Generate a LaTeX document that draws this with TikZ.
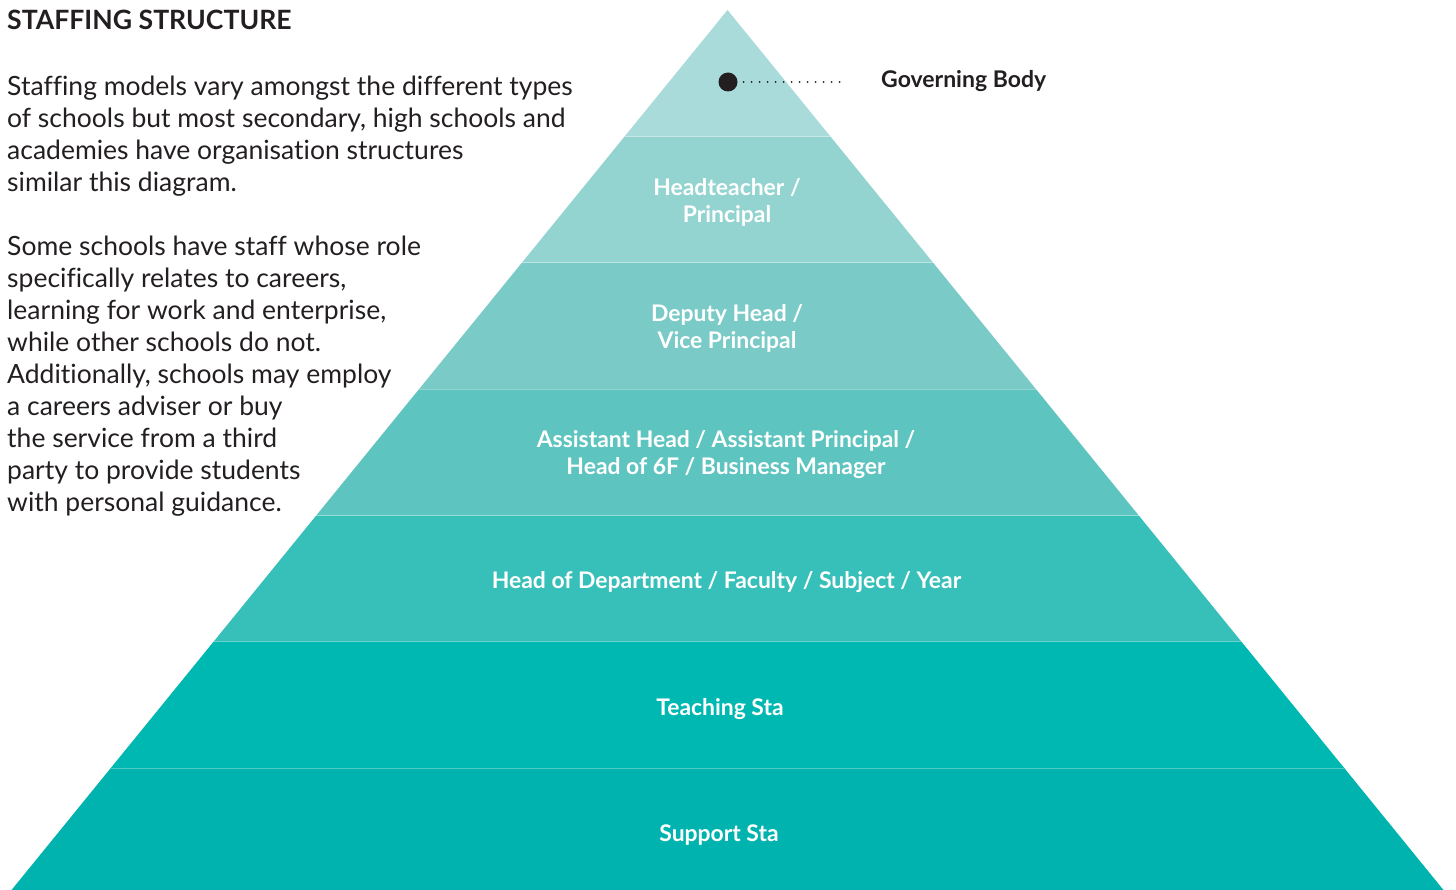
\documentclass[tikz,border=0pt]{standalone}
\usepackage{fontspec}
\setmainfont{Lato}[Ligatures=NoCommon]
\definecolor{Lone}{HTML}{A8DBD9}
\definecolor{Ltwo}{HTML}{93D4D1}
\definecolor{Lthree}{HTML}{7ACAC8}
\definecolor{Lfour}{HTML}{5EC4C0}
\definecolor{Lfive}{HTML}{37BFB9}
\definecolor{Lsix}{HTML}{00B8B2}
\definecolor{Lseven}{HTML}{00B3AE}
\definecolor{ink}{HTML}{231F20}
\begin{document}
\begin{tikzpicture}[x=1pt,y=-1pt,
  lab/.style={text=white, font=\fontsize{22.9}{27}\selectfont\bfseries, align=center, inner sep=0pt},
  para/.style={text=ink, font=\fontsize{26.5}{32}\selectfont, align=left, inner sep=0pt, anchor=north west},
  sep/.style={white, opacity=0.3, line width=1pt},
  dotline/.style={ink, line width=2pt, line cap=round, dash pattern=on 0pt off 8pt}]
\useasboundingbox (0,0) rectangle (1456,890);
\begin{scope}
\clip (0,0) rectangle (1456,890);
\foreach \i/\c in {0/Lone,1/Ltwo,2/Lthree,3/Lfour,4/Lfive,5/Lsix,6/Lseven}{
  \pgfmathsetmacro\ya{10+126.35*\i}
  \pgfmathsetmacro\yb{10+126.35*(\i+1)}
  \pgfmathsetmacro\wa{0.8136*(\ya-10)}
  \pgfmathsetmacro\wb{0.8136*(\yb-10)}
  \fill[\c] ({727.5-\wa},\ya) -- ({727.5+\wa},\ya) -- ({727.5+\wb},\yb) -- ({727.5-\wb},\yb) -- cycle;
}
\foreach \i in {1,...,6}{
  \pgfmathsetmacro\ya{10+126.35*\i}
  \pgfmathsetmacro\wa{0.8136*(\ya-10)}
  \draw[sep] ({727.5-\wa},\ya) -- ({727.5+\wa},\ya);
}
\end{scope}
% title and text
\node[text=ink, font=\fontsize{26.6}{30}\selectfont\bfseries, anchor=base west, inner sep=0pt] (title) at (7,30) {STAFFING STRUCTURE};
\node[para] (p1) at (7,76) {Staffing models vary amongst the different types\\of schools but most secondary, high schools and\\academies have organisation structures\\similar this diagram.};
\node[para] (p2) at (7,236) {Some schools have staff whose role\\specifically relates to careers,\\learning for work and enterprise,\\while other schools do not.\\Additionally, schools may employ\\a careers adviser or buy\\the service from a third\\party to provide students\\with personal guidance.};
% labels
\node[lab] (l2) at (727,202) {Headteacher /\\Principal};
\node[lab] (l3) at (727,328.5) {Deputy Head /\\Vice Principal};
\node[lab] (l4) at (726,455) {Assistant Head / Assistant Principal /\\Head of 6F / Business Manager};
\node[lab] (l5) at (726.5,582) {Head of Department / Faculty / Subject / Year};
\node[lab] (l6) at (720,709) {Teaching Sta};
\node[lab] (l7) at (719,835) {Support Sta};
% governing body
\node[circle, fill=ink, minimum size=19pt, inner sep=0pt] (dot) at (728,82) {};
\coordinate (dend) at (840,82);
\draw[dotline] ([xshift=6pt]dot.east) -- (dend);
\node[text=ink, font=\fontsize{23}{27}\selectfont\bfseries, anchor=base west, inner sep=0pt] (gb) at (881,88) {Governing Body};
\end{tikzpicture}
\end{document}
